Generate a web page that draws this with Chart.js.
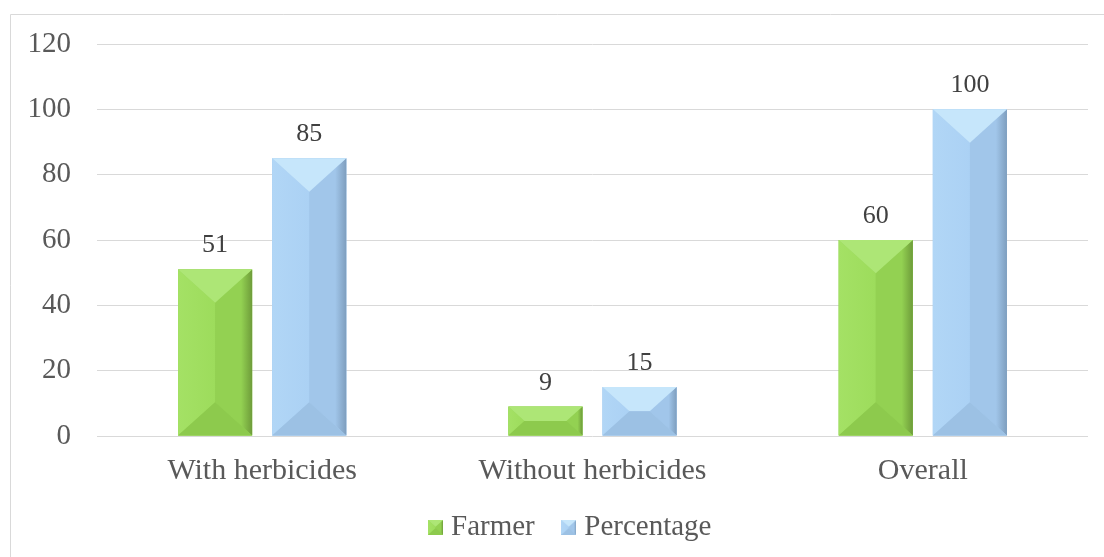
<!DOCTYPE html>
<html>
<head>
<meta charset="utf-8">
<script src="https://cdn.jsdelivr.net/npm/chart.js@4/dist/chart.umd.min.js"></script>
<style>
  html, body { margin: 0; padding: 0; background: #ffffff; }
  #wrap { width: 1104px; height: 557px; }
</style>
</head>
<body>
<div id="wrap"><canvas id="chart" width="1104" height="557"></canvas></div>
<script>
// Chart data
const categories = ['With herbicides', 'Without herbicides', 'Overall'];
const farmerValues = [51, 9, 60];
const percentageValues = [85, 15, 100];
const seriesNames = ['Farmer', 'Percentage'];
const yMin = 0;
const yMax = 120;
const yStep = 20;

// Facet colours for the bevelled bars
const palettes = {
  green: {
    base: '#94d454', top: '#ade676', left: '#9ddc5c', leftEdge: '#a4e165',
    right: '#93d152', rightEdge: '#6e9c3a', bottom: '#8dca4d', center: '#95d455'
  },
  blue: {
    base: '#a6ccf0', top: '#c6e6fb', left: '#abd1f4', leftEdge: '#b1d6f6',
    right: '#a1c6ea', rightEdge: '#7e9ebe', bottom: '#9cc1e4', center: '#a6ccf0'
  }
};

const FONT = '"Liberation Serif", "Times New Roman", serif';

function poly(ctx, pts, fill) {
  ctx.beginPath();
  ctx.moveTo(pts[0][0], pts[0][1]);
  for (let i = 1; i < pts.length; i++) ctx.lineTo(pts[i][0], pts[i][1]);
  ctx.closePath();
  ctx.fillStyle = fill;
  ctx.fill();
}

// Draws a rectangle with four slanted facets (pyramid-style bevel)
function drawBevel(ctx, L, T, R, B, pal) {
  const w = R - L, h = B - T;
  if (w <= 0 || h <= 0) return;
  const ix = Math.min(w / 2, (h / 2) / 0.9);
  const iy = ix * 0.9;
  ctx.save();
  ctx.fillStyle = pal.base;
  ctx.fillRect(L, T, w, h);
  // centre
  poly(ctx, [[L + ix, T + iy], [R - ix, T + iy], [R - ix, B - iy], [L + ix, B - iy]], pal.center);
  // left facet
  const lg = ctx.createLinearGradient(L, 0, L + ix, 0);
  lg.addColorStop(0, pal.leftEdge);
  lg.addColorStop(1, pal.left);
  poly(ctx, [[L, T], [L + ix, T + iy], [L + ix, B - iy], [L, B]], lg);
  // right facet
  const rg = ctx.createLinearGradient(R - ix, 0, R, 0);
  rg.addColorStop(0, pal.right);
  rg.addColorStop(0.7, pal.right);
  rg.addColorStop(1, pal.rightEdge);
  poly(ctx, [[R, T], [R - ix, T + iy], [R - ix, B - iy], [R, B]], rg);
  // top facet
  poly(ctx, [[L, T], [R, T], [R - ix, T + iy], [L + ix, T + iy]], pal.top);
  // bottom facet
  poly(ctx, [[L, B], [R, B], [R - ix, B - iy], [L + ix, B - iy]], pal.bottom);
  ctx.restore();
}

function makeSwatch(pal) {
  const c = document.createElement('canvas');
  c.width = 15; c.height = 15;
  drawBevel(c.getContext('2d'), 0, 0, 15, 15, pal);
  return c;
}

const swatches = [makeSwatch(palettes.green), makeSwatch(palettes.blue)];

// Bevel facets painted over each bar element
const bevelBars = {
  id: 'bevelBars',
  afterDatasetsDraw(chart) {
    const ctx = chart.ctx;
    chart.data.datasets.forEach((ds, di) => {
      const meta = chart.getDatasetMeta(di);
      const pal = di === 0 ? palettes.green : palettes.blue;
      meta.data.forEach(el => {
        const p = el.getProps(['x', 'y', 'base', 'width'], true);
        drawBevel(ctx, p.x - p.width / 2, Math.min(p.y, p.base), p.x + p.width / 2, Math.max(p.y, p.base), pal);
      });
    });
  }
};

// Value labels above the bars
const valueLabels = {
  id: 'valueLabels',
  afterDatasetsDraw(chart) {
    const ctx = chart.ctx;
    ctx.save();
    ctx.font = '26px ' + FONT;
    ctx.fillStyle = '#404040';
    ctx.textAlign = 'center';
    ctx.textBaseline = 'alphabetic';
    chart.data.datasets.forEach((ds, di) => {
      const meta = chart.getDatasetMeta(di);
      meta.data.forEach((el, i) => {
        const p = el.getProps(['x', 'y'], true);
        ctx.fillText(String(ds.data[i]), p.x, p.y - 17);
      });
    });
    ctx.restore();
  }
};

// Thin frame along the top and left edges
const frame = {
  id: 'frame',
  beforeDraw(chart) {
    const ctx = chart.ctx;
    ctx.save();
    ctx.strokeStyle = '#d9d9d9';
    ctx.lineWidth = 1;
    ctx.beginPath();
    ctx.moveTo(10.5, chart.height);
    ctx.lineTo(10.5, 14.5);
    ctx.lineTo(chart.width, 14.5);
    ctx.stroke();
    ctx.restore();
  }
};

// Move the legend row into place below the category labels
const legendShift = {
  id: 'legendShift',
  afterLayout(chart) {
    const lg = chart.legend;
    if (lg) {
      lg.left += 24;
      lg.right += 24;
      lg.top -= 10;
      lg.bottom -= 10;
    }
  }
};

new Chart(document.getElementById('chart'), {
  type: 'bar',
  data: {
    labels: categories,
    datasets: [
      {
        label: seriesNames[0], data: farmerValues, backgroundColor: palettes.green.base,
        pointStyle: swatches[0], categoryPercentage: 0.57, barPercentage: 0.787
      },
      {
        label: seriesNames[1], data: percentageValues, backgroundColor: palettes.blue.base,
        pointStyle: swatches[1], categoryPercentage: 0.57, barPercentage: 0.787
      }
    ]
  },
  options: {
    responsive: false,
    animation: false,
    devicePixelRatio: 1,
    layout: { padding: { left: 10, right: 16, top: 44, bottom: -5 } },
    scales: {
      x: {
        grid: { display: false, drawTicks: false },
        border: { display: false },
        ticks: { color: '#595959', font: { family: FONT, size: 30 }, padding: 17 },
        afterFit(scale) { scale.height = 54; }
      },
      y: {
        min: yMin, max: yMax,
        grid: { color: '#d9d9d9', lineWidth: 1, drawTicks: false },
        border: { display: false },
        ticks: { stepSize: yStep, color: '#595959', font: { family: FONT, size: 29 }, padding: 26 },
        afterFit(scale) { scale.width = 87; }
      }
    },
    plugins: {
      legend: {
        position: 'bottom',
        labels: {
          usePointStyle: true,
          pointStyleWidth: 2,
          padding: 33,
          color: '#595959',
          font: { family: FONT, size: 29 }
        }
      },
      tooltip: { enabled: false }
    }
  },
  plugins: [frame, bevelBars, valueLabels, legendShift]
});
</script>
</body>
</html>
